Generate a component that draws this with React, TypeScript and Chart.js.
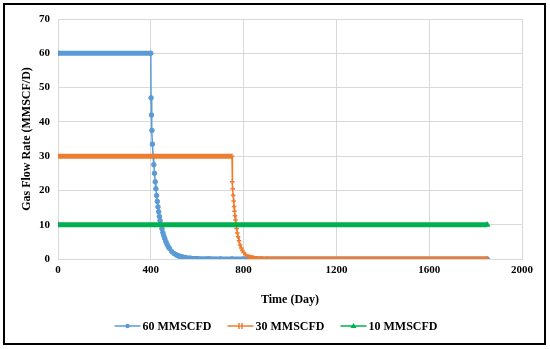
import React, { useEffect, useRef } from "react";
import { Chart, registerables } from "chart.js";

Chart.register(...registerables);

const days60 = [0, 400, 401, 403, 405, 407, 410, 413, 416, 419, 422, 425, 428, 431, 434, 437, 440, 444, 448, 452, 456, 460, 465, 470, 475, 480, 490, 500, 510, 520, 535, 550, 570, 600, 650, 700, 750, 800, 1850];
const rate60 = [60, 60, 47, 42, 37.5, 33.5, 30, 27.5, 25, 22.5, 20.5, 18.5, 16.8, 15.2, 13.8, 12.4, 11.2, 10, 8.8, 7.7, 6.8, 6, 5.1, 4.3, 3.6, 3.1, 2.2, 1.6, 1.2, 0.9, 0.6, 0.4, 0.25, 0.12, 0.05, 0.02, 0.01, 0, 0];

const days30 = [0, 750, 751, 753, 755, 757, 759, 761, 763, 765, 767, 770, 773, 776, 780, 785, 790, 795, 800, 810, 820, 830, 845, 860, 880, 900, 950, 1000, 1850];
const rate30 = [30, 30, 22.5, 20.5, 18.6, 16.9, 15.3, 13.9, 12.6, 11.4, 10.3, 8.9, 7.6, 6.5, 5.3, 4.1, 3.2, 2.5, 1.9, 1.2, 0.75, 0.45, 0.25, 0.13, 0.06, 0.03, 0.01, 0, 0];

const days10 = [0, 1850];
const rate10 = [10, 10];

const seriesNames = ["60 MMSCFD", "30 MMSCFD", "10 MMSCFD"];
const seriesColors = ["#5b9bd5", "#ed7d31", "#00b050"];
const seriesMarkers = ["circle", "cross", "triangle"];

const xTitle = "Time (Day)";
const yTitle = "Gas Flow Rate (MMSCF/D)";

const FONT = "'Liberation Serif', 'Times New Roman', serif";

function toPoints(xs: number[], ys: number[]) {
  return xs.map((x, i) => ({ x, y: ys[i] }));
}

const legendPlugin = {
  id: "customLegend",
  afterDraw(chart: any) {
    const ctx = chart.ctx;
    ctx.save();
    ctx.font = `bold 12px ${FONT}`;
    ctx.textBaseline = "middle";
    const y = 326;
    const lineLen = 26;
    const gap = 2;
    const itemGap = 16;
    const widths = seriesNames.map((n) => lineLen + gap + ctx.measureText(n).width);
    const total = widths.reduce((a, b) => a + b, 0) + itemGap * (widths.length - 1);
    let x = 276 - total / 2;
    seriesNames.forEach((name, i) => {
      const c = seriesColors[i];
      ctx.strokeStyle = c;
      ctx.fillStyle = c;
      ctx.lineWidth = 1.5;
      ctx.beginPath();
      ctx.moveTo(x, y);
      ctx.lineTo(x + lineLen, y);
      ctx.stroke();
      const mx = x + lineLen / 2;
      if (seriesMarkers[i] === "circle") {
        ctx.beginPath();
        ctx.arc(mx, y, 2.2, 0, Math.PI * 2);
        ctx.fill();
      } else if (seriesMarkers[i] === "cross") {
        ctx.beginPath();
        ctx.moveTo(mx - 1.5, y - 3);
        ctx.lineTo(mx - 1.5, y + 3);
        ctx.moveTo(mx + 1.5, y - 3);
        ctx.lineTo(mx + 1.5, y + 3);
        ctx.stroke();
      } else {
        ctx.beginPath();
        ctx.moveTo(mx, y - 3);
        ctx.lineTo(mx + 3, y + 2);
        ctx.lineTo(mx - 3, y + 2);
        ctx.closePath();
        ctx.fill();
      }
      ctx.fillStyle = "#000";
      ctx.textAlign = "left";
      ctx.fillText(name, x + lineLen + gap, y + 1);
      x += widths[i] + itemGap;
    });
    ctx.restore();
  },
};

export default function App() {
  const ref = useRef<HTMLCanvasElement | null>(null);

  useEffect(() => {
    if (!ref.current) return;
    const segWidth = (c: any) => {
      const dx = Math.abs(c.p1.x - c.p0.x);
      const dy = Math.abs(c.p1.y - c.p0.y);
      return dy < dx * 0.5 ? 5 : 1.5;
    };
    const datasets = [
      { xs: days60, ys: rate60 },
      { xs: days30, ys: rate30 },
      { xs: days10, ys: rate10 },
    ].map((s, i) => ({
      label: seriesNames[i],
      data: toPoints(s.xs, s.ys),
      order: 3 - i,
      borderColor: seriesColors[i],
      backgroundColor: seriesColors[i],
      pointStyle: seriesMarkers[i] as any,
      pointRadius: i === 2 ? 3 : 2.3,
      pointBorderWidth: i === 1 ? 1.5 : 1,
      pointBorderColor: seriesColors[i],
      borderWidth: 1.5,
      tension: 0,
      segment: { borderWidth: segWidth },
    }));

    const chart = new Chart(ref.current, {
      type: "line",
      data: { datasets },
      options: {
        animation: false,
        responsive: false,
        devicePixelRatio: 1,
        layout: { padding: { left: 20, top: 19, right: 28, bottom: 42 } },
        plugins: { legend: { display: false }, tooltip: { enabled: false } },
        scales: {
          x: {
            type: "linear",
            min: 0,
            max: 2000,
            ticks: {
              stepSize: 400,
              color: "#000",
              font: { family: FONT, size: 11, weight: "bold" },
              padding: 5,
              callback: (v: any) => String(v),
            },
            grid: { color: "#d9d9d9", drawTicks: false },
            border: { color: "#d9d9d9" },
            title: { display: true, text: xTitle, color: "#000", font: { family: FONT, size: 12, weight: "bold" }, padding: { top: 6, bottom: 0 } },
            afterFit: (s: any) => { s.height = 48; },
          },
          y: {
            min: 0,
            max: 70,
            ticks: {
              stepSize: 10,
              color: "#000",
              font: { family: FONT, size: 11, weight: "bold" },
              padding: 8,
              callback: (v: any) => String(v),
            },
            grid: { color: "#d9d9d9", drawTicks: false },
            border: { color: "#d9d9d9" },
            title: { display: true, text: yTitle, color: "#000", font: { family: FONT, size: 12, weight: "bold" }, padding: { top: 0, bottom: 4 } },
            afterFit: (s: any) => { s.width = 38; },
          },
        },
      },
      plugins: [legendPlugin],
    });
    return () => chart.destroy();
  }, []);

  return (
    <div style={{ position: "fixed", left: 0, top: 0, width: 550, height: 349, background: "#fff" }}>
      <div style={{ position: "absolute", left: 3, top: 3, width: 543, height: 342, border: "2.5px solid #000", boxSizing: "border-box" }} />
      <canvas ref={ref} width={550} height={349} style={{ position: "absolute", left: 0, top: 0, width: 550, height: 349 }} />
    </div>
  );
}
